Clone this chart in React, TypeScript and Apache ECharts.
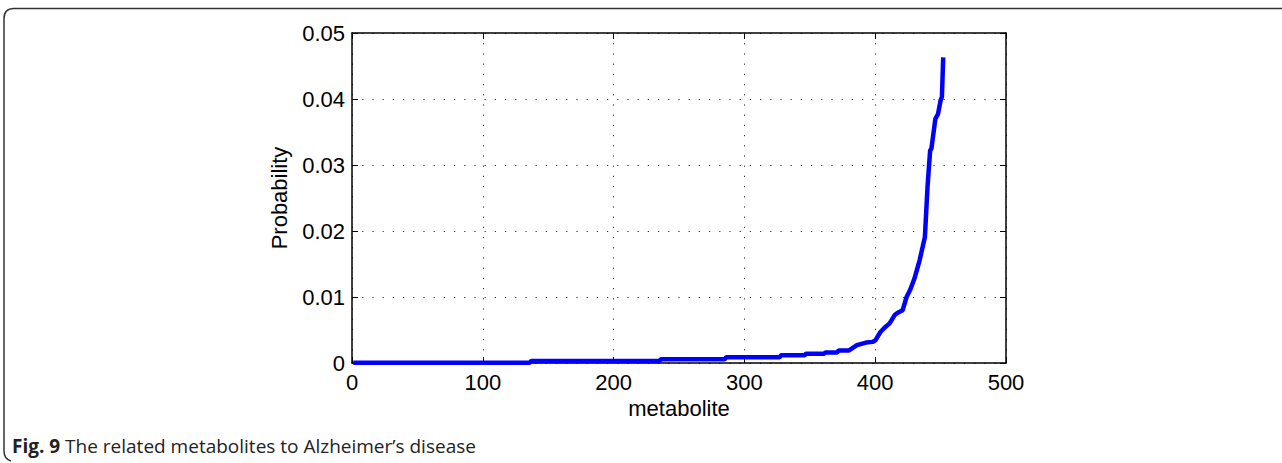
import React, { useEffect, useRef } from "react";
import * as echarts from "echarts";

const metaboliteIdx = [1, 136, 137, 235, 236, 285, 286, 327, 328, 346, 347, 361, 362, 371, 372, 380, 386, 393, 398, 400, 404, 408, 411, 415, 418, 421, 424, 427, 430, 434, 438, 440, 442, 443, 446, 448, 450, 451, 452];
const probability = [0.00005, 0.00005, 0.0003, 0.0003, 0.00056, 0.00056, 0.00086, 0.00086, 0.00116, 0.00116, 0.0014, 0.0014, 0.0016, 0.0016, 0.0019, 0.0019, 0.0027, 0.0031, 0.0032, 0.0034, 0.0047, 0.0055, 0.006, 0.0073, 0.0077, 0.008, 0.01, 0.0112, 0.0128, 0.0156, 0.0191, 0.0267, 0.0322, 0.0325, 0.037, 0.0377, 0.0398, 0.0403, 0.0463];

const xTicks = { min: 0, max: 500, interval: 100 };
const yTicks = { min: 0, max: 0.05, interval: 0.01 };

const captionBold = "Fig. 9";
const captionRest = " The related metabolites to Alzheimer\u2019s disease";

const FONT = "'Liberation Sans', Arial, sans-serif";
const CAP_FONT = "'Open Sans', sans-serif";

echarts.graphic.registerShape(
  "frameBorder",
  echarts.graphic.extendPath("M 1282 8.5 L 14 8.5 Q 4 8.5 4 18.5 L 4 451 Q 4 459 11 461", {})
);

export default function App() {
  const ref = useRef<HTMLDivElement>(null);
  useEffect(() => {
    if (!ref.current) return;
    const chart = echarts.init(ref.current, null, { renderer: "svg" });
    const gridLine = { show: true, lineStyle: { color: "#333", type: [1.2, 9], width: 1 } };
    const data = metaboliteIdx.map((x, i) => [x, probability[i]]);
    chart.setOption({
      animation: false,
      backgroundColor: "#fff",
      grid: { left: 352, right: 276, top: 33, bottom: 100, containLabel: false },
      xAxis: [
        {
          type: "value",
          ...xTicks,
          name: "metabolite",
          nameLocation: "middle",
          nameGap: 34,
          nameTextStyle: { color: "#000", fontSize: 22, fontFamily: FONT },
          axisLine: { show: true, onZero: false, lineStyle: { color: "#000", width: 1.5 } },
          axisTick: { show: true, inside: true, length: 6, lineStyle: { color: "#000", width: 1 } },
          axisLabel: { color: "#000", fontSize: 22, fontFamily: FONT, margin: 8 },
          splitLine: gridLine,
        },
        {
          type: "value",
          position: "top",
          ...xTicks,
          axisLine: { show: true, onZero: false, lineStyle: { color: "#000", width: 1.5 } },
          axisTick: { show: true, inside: true, length: 6, lineStyle: { color: "#000", width: 1 } },
          axisLabel: { show: false },
          splitLine: { show: false },
        },
      ],
      yAxis: [
        {
          type: "value",
          ...yTicks,
          name: "Probability",
          nameLocation: "middle",
          nameGap: 62,
          nameTextStyle: { color: "#000", fontSize: 22, fontFamily: FONT },
          axisLine: { show: true, onZero: false, lineStyle: { color: "#000", width: 1.5 } },
          axisTick: { show: true, inside: true, length: 6, lineStyle: { color: "#000", width: 1 } },
          axisLabel: { color: "#000", fontSize: 22, fontFamily: FONT, margin: 7 },
          splitLine: gridLine,
        },
        {
          type: "value",
          position: "right",
          ...yTicks,
          axisLine: { show: true, onZero: false, lineStyle: { color: "#000", width: 1.5 } },
          axisTick: { show: true, inside: true, length: 6, lineStyle: { color: "#000", width: 1 } },
          axisLabel: { show: false },
          splitLine: { show: false },
        },
      ],
      series: [
        {
          type: "line",
          data,
          showSymbol: false,
          symbol: "none",
          lineStyle: { color: "#0000ff", width: 4.5 },
          itemStyle: { color: "#0000ff" },
          z: 3,
        },
      ],
      graphic: [
        {
          type: "frameBorder",
          x: 0,
          y: 0,
          style: { fill: "none", stroke: "#333", lineWidth: 1.5 },
          silent: true,
        },
        {
          type: "text",
          left: 12,
          top: 436,
          style: {
            fontSize: 19,
            fontFamily: CAP_FONT,
            fill: "#222",
            rich: {
              b: { fontWeight: "bold", fontSize: 19, fontFamily: CAP_FONT, fill: "#222" },
              r: { fontSize: 19, fontFamily: CAP_FONT, fill: "#222" },
            },
            text: `{b|${captionBold}}{r|${captionRest}}`,
          },
        },
      ],
    });
    return () => chart.dispose();
  }, []);
  return (
    <div
      ref={ref}
      style={{ position: "fixed", left: 0, top: 0, width: 1282, height: 463 }}
    />
  );
}
